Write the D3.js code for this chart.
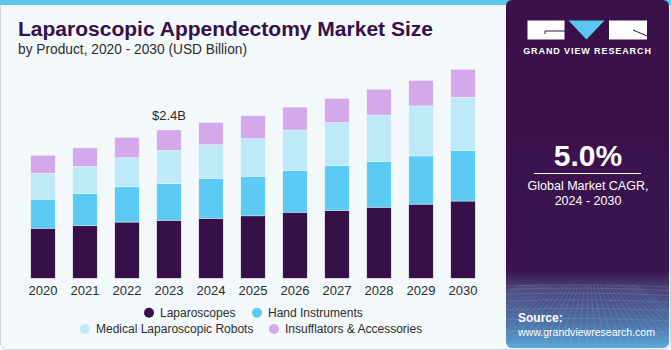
<!DOCTYPE html>
<html>
<head>
<meta charset="utf-8">
<script src="https://cdn.jsdelivr.net/npm/d3@7"></script>
<style>
html,body{margin:0;padding:0;background:#fff;}
svg{display:block;font-family:"Liberation Sans",Arial,sans-serif;}
</style>
</head>
<body>
<svg id="chart" width="671" height="350"></svg>
<script>
const years = ["2020","2021","2022","2023","2024","2025","2026","2027","2028","2029","2030"];
const laparoscopes = [0.81,0.85,0.91,0.94,0.97,1.01,1.07,1.10,1.15,1.20,1.25];
const handInstruments = [0.47,0.52,0.57,0.59,0.64,0.64,0.67,0.72,0.74,0.78,0.82];
const medicalRobots = [0.42,0.44,0.47,0.54,0.55,0.61,0.66,0.70,0.75,0.81,0.86];
const insufflators = [0.29,0.30,0.33,0.33,0.36,0.37,0.37,0.39,0.42,0.41,0.45];
const seriesNames = ["Laparoscopes","Hand Instruments","Medical Laparoscopic Robots","Insufflators & Accessories"];
const seriesColors = ["#37104a","#5bcbf5","#bde9f9","#d4a9ec"];
const annotation = {year:"2023", label:"$2.4B"};

const svg = d3.select("#chart");
const W = 671, H = 350;

// card background
svg.append("rect").attr("x",0.5).attr("y",0.5).attr("width",W-1).attr("height",H-1)
  .attr("rx",6).attr("fill","#f3f8fb").attr("stroke","#cfd3d6");
svg.append("rect").attr("x",0).attr("y",0).attr("width",W).attr("height",5).attr("fill","#5bc6ee");

// right panel
const defs = svg.append("defs");
const grad = defs.append("linearGradient").attr("id","pg").attr("x1",0).attr("y1",0).attr("x2",0).attr("y2",1);
grad.append("stop").attr("offset","0").attr("stop-color","#3a1049");
grad.append("stop").attr("offset","0.78").attr("stop-color","#3b1450");
grad.append("stop").attr("offset","0.83").attr("stop-color","#4b4378");
grad.append("stop").attr("offset","0.93").attr("stop-color","#4f73a8");
grad.append("stop").attr("offset","1").attr("stop-color","#58a6d6");
const clip = defs.append("clipPath").attr("id","pc");
clip.append("rect").attr("x",506).attr("y",0).attr("width",163).attr("height",348).attr("rx",6);
const panel = svg.append("g").attr("clip-path","url(#pc)");
panel.append("rect").attr("x",506).attr("y",0).attr("width",165).attr("height",348).attr("fill","url(#pg)");
// faint grid in panel bottom
const gridG = panel.append("g").attr("stroke","#9fc6ea").attr("stroke-opacity",0.3).attr("stroke-width",0.6).attr("fill","none");
for (let i=0;i<9;i++){
  const yy = 286 + i*i*0.85 + i*2.5;
  gridG.append("path").attr("d",`M506,${yy} Q588,${yy-3} 669,${yy+1}`);
}
for (let i=-12;i<=24;i++){
  const xb = 506 + i*9;
  gridG.append("line").attr("x1",588+(xb-588)*0.35).attr("y1",285).attr("x2",xb).attr("y2",348);
}

// logo
const logo = svg.append("g");
logo.append("rect").attr("x",527.5).attr("y",20.5).attr("width",37).attr("height",19).attr("fill","#fff");
logo.append("line").attr("x1",545).attr("y1",31).attr("x2",565).attr("y2",31).attr("stroke","#3a1049").attr("stroke-width",1);
logo.append("line").attr("x1",545).attr("y1",31).attr("x2",545).attr("y2",34).attr("stroke","#3a1049").attr("stroke-width",1);
logo.append("path").attr("d","M568.5,20.5 L604.5,20.5 L586.5,39.5 Z").attr("fill","#5bc6ee");
logo.append("rect").attr("x",609).attr("y",20.5).attr("width",38).attr("height",19).attr("fill","#fff");
logo.append("line").attr("x1",633).attr("y1",30).attr("x2",647).attr("y2",36).attr("stroke","#3a1049").attr("stroke-width",1);
svg.append("text").attr("x",587.5).attr("y",54).attr("text-anchor","middle").attr("fill","#fff")
  .attr("font-size",9).attr("font-weight","bold").attr("letter-spacing",0.9).text("GRAND VIEW RESEARCH");

svg.append("text").attr("x",588).attr("y",166).attr("text-anchor","middle").attr("fill","#fff")
  .attr("font-size",30).attr("font-weight","bold").text("5.0%");
svg.append("line").attr("x1",534).attr("x2",641).attr("y1",173.5).attr("y2",173.5).attr("stroke","#fff").attr("stroke-width",1);
svg.append("text").attr("x",588).attr("y",190).attr("text-anchor","middle").attr("fill","#fff")
  .attr("font-size",12.5).text("Global Market CAGR,");
svg.append("text").attr("x",588).attr("y",205).attr("text-anchor","middle").attr("fill","#fff")
  .attr("font-size",12.5).text("2024 - 2030");
svg.append("text").attr("x",518).attr("y",322).attr("fill","#fff")
  .attr("font-size",12).attr("font-weight","bold").text("Source:");
svg.append("text").attr("x",518).attr("y",336).attr("fill","#fff")
  .attr("font-size",11.5).attr("textLength",137).attr("lengthAdjust","spacingAndGlyphs").text("www.grandviewresearch.com");

// title
svg.append("text").attr("x",18).attr("y",36).attr("fill","#37104a")
  .attr("font-size",20).attr("font-weight","900").attr("textLength",415).attr("lengthAdjust","spacingAndGlyphs")
  .text("Laparoscopic Appendectomy Market Size");
svg.append("text").attr("x",18).attr("y",54).attr("fill","#2b2b2b")
  .attr("font-size",14).attr("textLength",229).attr("lengthAdjust","spacingAndGlyphs")
  .text("by Product, 2020 - 2030 (USD Billion)");

// scales
const x = d3.scaleBand().domain(years).range([22,484]).paddingInner(0.42).paddingOuter(0.21);
const y = d3.scaleLinear().domain([0,3.5]).range([278.3,62]);

const table = years.map((yr,i)=>({year:yr, s0:laparoscopes[i], s1:handInstruments[i], s2:medicalRobots[i], s3:insufflators[i]}));
const stack = d3.stack().keys(["s0","s1","s2","s3"]);
const stacked = stack(table);

const barsG = svg.append("g");
stacked.forEach((layer,li)=>{
  barsG.append("g").attr("fill",seriesColors[li])
    .selectAll("rect").data(layer).join("rect")
    .attr("x",d=>x(d.data.year)).attr("width",x.bandwidth())
    .attr("y",d=>y(d[1])).attr("height",d=>y(d[0])-y(d[1]))
    .attr("stroke","#f3f8fb").attr("stroke-width",0.4);
});

// axis
const axis = d3.axisBottom(x).tickSize(0).tickPadding(7);
const ax = svg.append("g").attr("transform",`translate(0,${y(0)})`).call(axis);
ax.select(".domain").remove();
ax.selectAll("text").attr("font-size",13).attr("fill","#2b2b2b").attr("font-family","Liberation Sans, Arial, sans-serif");

// annotation
const annIdx = years.indexOf(annotation.year);
const annTotal = laparoscopes[annIdx]+handInstruments[annIdx]+medicalRobots[annIdx]+insufflators[annIdx];
svg.append("text").attr("x",x(annotation.year)+x.bandwidth()/2).attr("y",y(annTotal)-10)
  .attr("text-anchor","middle").attr("font-size",13).attr("fill","#2b2b2b").text(annotation.label);

// legend
const legendPos = [
  {cx:149, cy:312.7},
  {cx:257, cy:312.7},
  {cx:85, cy:329},
  {cx:274, cy:329}
];
const lg = svg.append("g");
seriesNames.forEach((n,i)=>{
  lg.append("circle").attr("cx",legendPos[i].cx).attr("cy",legendPos[i].cy).attr("r",5).attr("fill",seriesColors[i]);
  lg.append("text").attr("x",legendPos[i].cx+11).attr("y",legendPos[i].cy+4.3)
    .attr("font-size",12).attr("fill","#2b2b2b").text(n);
});
</script>
</body>
</html>
